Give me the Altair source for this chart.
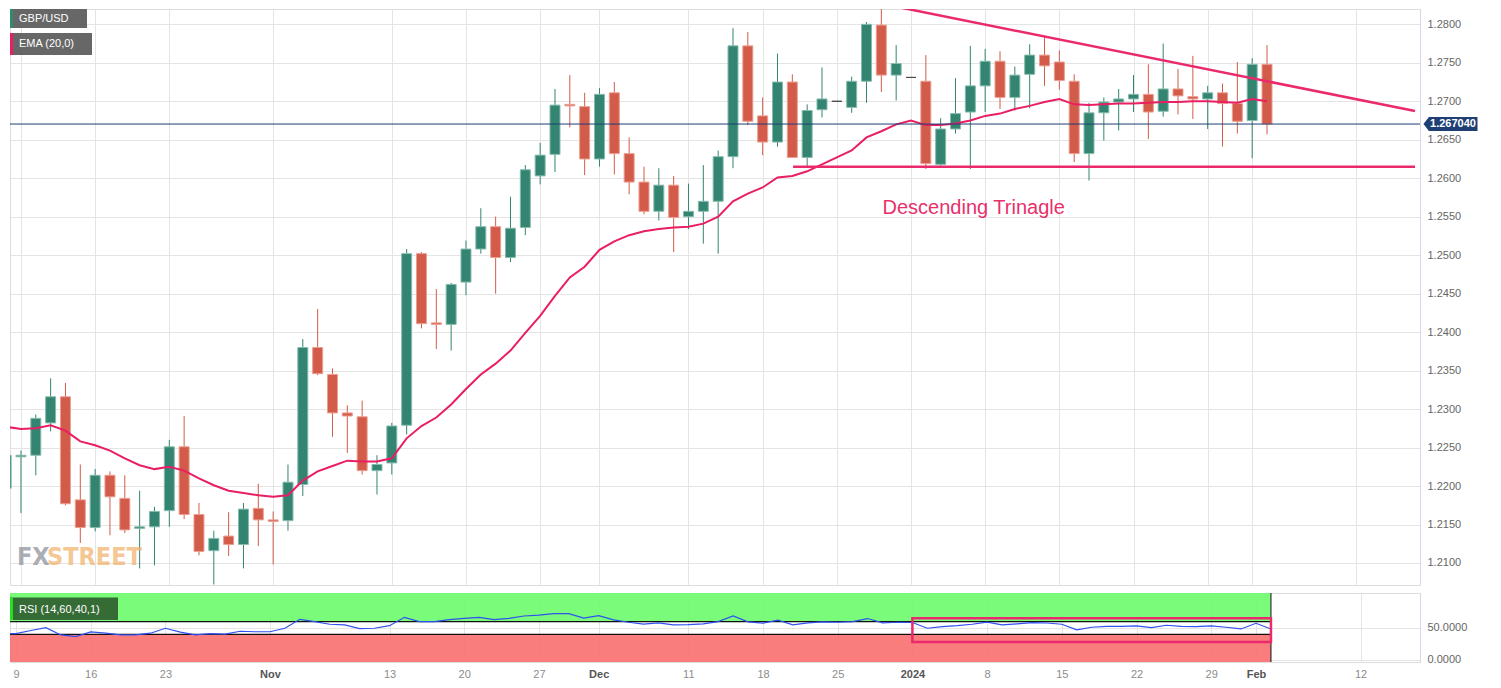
import json
import altair as alt
import pandas as pd

# ---------------- data ----------------
# trading days 2023-10-06 .. 2024-02-02 (index -1 = Oct 6, 0 = Oct 9)
opens = [1.2197, 1.2238, 1.2240, 1.2282, 1.2316, 1.2182, 1.2146, 1.2214, 1.2184, 1.2145,
         1.2147, 1.2168, 1.2251, 1.2163, 1.2116, 1.2135, 1.2124, 1.2171, 1.2156, 1.2155,
         1.2202, 1.2380, 1.2345, 1.2295, 1.2290, 1.2220, 1.2230, 1.2279, 1.2502, 1.2412,
         1.2410, 1.2465, 1.2508, 1.2537, 1.2497, 1.2536, 1.2603, 1.2631, 1.2696, 1.2693,
         1.2625, 1.2711, 1.2632, 1.2595, 1.2557, 1.2591, 1.2550, 1.2557, 1.2570, 1.2628,
         1.2772, 1.2681, 1.2647, 1.2725, 1.2627, 1.2689, 1.2700, 1.2692, 1.2726, 1.2799,
         1.2734, 1.2731, 1.2726, 1.2618, 1.2664, 1.2686, 1.2720, 1.2752, 1.2705, 1.2735,
         1.2760, 1.2751, 1.2726, 1.2632, 1.2685, 1.2699, 1.2703, 1.2709, 1.2687, 1.2716,
         1.2706, 1.2703, 1.2711, 1.2697, 1.2675, 1.2748]
highs = [1.2264, 1.2246, 1.2293, 1.2340, 1.2334, 1.2228, 1.2222, 1.2219, 1.2214, 1.2194,
         1.2173, 1.2260, 1.2291, 1.2178, 1.2142, 1.2166, 1.2178, 1.2203, 1.2167, 1.2228,
         1.2391, 1.2430, 1.2353, 1.2305, 1.2311, 1.2240, 1.2282, 1.2508, 1.2504, 1.2456,
         1.2464, 1.2519, 1.2561, 1.2550, 1.2576, 1.2617, 1.2646, 1.2716, 1.2734, 1.2711,
         1.2717, 1.2725, 1.2653, 1.2615, 1.2613, 1.2603, 1.2593, 1.2617, 1.2636, 1.2795,
         1.2790, 1.2705, 1.2762, 1.2735, 1.2696, 1.2744, 1.2700, 1.2732, 1.2803, 1.2827,
         1.2773, 1.2731, 1.2760, 1.2678, 1.2730, 1.2772, 1.2768, 1.2765, 1.2745, 1.2774,
         1.2785, 1.2766, 1.2735, 1.2698, 1.2705, 1.2716, 1.2734, 1.2748, 1.2775, 1.2742,
         1.2759, 1.2720, 1.2723, 1.2751, 1.2756, 1.2773]
lows = [1.2109, 1.2165, 1.2214, 1.2271, 1.2175, 1.2126, 1.2141, 1.2136, 1.2139, 1.2093,
        1.2097, 1.2147, 1.2157, 1.2110, 1.2072, 1.2109, 1.2093, 1.2122, 1.2098, 1.2142,
        1.2187, 1.2344, 1.2264, 1.2243, 1.2215, 1.2189, 1.2215, 1.2267, 1.2405, 1.2378,
        1.2376, 1.2448, 1.2502, 1.2450, 1.2491, 1.2526, 1.2592, 1.2608, 1.2666, 1.2604,
        1.2615, 1.2605, 1.2579, 1.2553, 1.2545, 1.2504, 1.2534, 1.2515, 1.2502, 1.2613,
        1.2669, 1.2630, 1.2641, 1.2627, 1.2615, 1.2679, 1.2700, 1.2685, 1.2698, 1.2712,
        1.2701, 1.2731, 1.2612, 1.2616, 1.2658, 1.2612, 1.2686, 1.2690, 1.2688, 1.2691,
        1.2720, 1.2715, 1.2621, 1.2597, 1.2649, 1.2662, 1.2686, 1.2651, 1.2680, 1.2683,
        1.2677, 1.2664, 1.2641, 1.2658, 1.2626, 1.2657]
closes = [1.2240, 1.2240, 1.2288, 1.2316, 1.2177, 1.2146, 1.2214, 1.2186, 1.2143, 1.2147,
          1.2167, 1.2251, 1.2163, 1.2115, 1.2132, 1.2124, 1.2170, 1.2156, 1.2154, 1.2205,
          1.2380, 1.2346, 1.2295, 1.2291, 1.2220, 1.2228, 1.2278, 1.2502, 1.2411, 1.2410,
          1.2462, 1.2508, 1.2537, 1.2497, 1.2535, 1.2611, 1.2630, 1.2695, 1.2694, 1.2625,
          1.2709, 1.2632, 1.2595, 1.2557, 1.2591, 1.2549, 1.2557, 1.2570, 1.2628, 1.2772,
          1.2674, 1.2647, 1.2725, 1.2627, 1.2688, 1.2703, 1.2700, 1.2726, 1.2800, 1.2734,
          1.2749, 1.2731, 1.2619, 1.2664, 1.2684, 1.2720, 1.2752, 1.2705, 1.2734, 1.2760,
          1.2746, 1.2727, 1.2632, 1.2685, 1.2699, 1.2703, 1.2709, 1.2686, 1.2716, 1.2707,
          1.2703, 1.2711, 1.2697, 1.2674, 1.2748, 1.26704]
ema20 = [1.2277, 1.2274, 1.2275, 1.2279, 1.2272, 1.2258, 1.2253, 1.2246, 1.2236, 1.2227,
         1.2222, 1.2225, 1.2220, 1.2210, 1.2201, 1.2194, 1.2191, 1.2188, 1.2186, 1.2188,
         1.2207, 1.2219, 1.2226, 1.2233, 1.2232, 1.2232, 1.2236, 1.2262, 1.2278, 1.2289,
         1.2306, 1.2326, 1.2345, 1.2359, 1.2376, 1.2399, 1.2421, 1.2447, 1.2471, 1.2485,
         1.2507, 1.2518, 1.2526, 1.2531, 1.2534, 1.2536, 1.2537, 1.2541, 1.2550, 1.2570,
         1.2580, 1.2588, 1.2601, 1.2603, 1.2609, 1.2618, 1.2627, 1.2636, 1.2653, 1.2661,
         1.2670, 1.2675, 1.2669, 1.2669, 1.2671, 1.2675, 1.2681, 1.2684, 1.2690, 1.2694,
         1.2699, 1.2703, 1.2696, 1.2695, 1.2696, 1.2697, 1.2697, 1.2698, 1.2699, 1.2699,
         1.2700, 1.2700, 1.2699, 1.2698, 1.2703, 1.2700]
rsi14 = [41.0, 41.0, 46.0, 50.5, 39.0, 36.5, 43.8, 41.7, 39.0, 39.0,
         41.7, 49.5, 43.3, 39.0, 41.0, 40.2, 44.8, 44.0, 44.0, 49.5,
         63.6, 59.9, 55.8, 54.7, 49.0, 49.5, 53.6, 66.7, 59.9, 59.9,
         63.0, 65.2, 66.7, 63.0, 65.2, 68.8, 70.3, 72.4, 72.4, 65.4,
         69.5, 62.7, 59.0, 55.9, 57.9, 54.8, 55.2, 56.3, 60.0, 69.0,
         59.5, 57.5, 62.2, 54.8, 57.9, 59.5, 59.0, 60.0, 64.8, 58.0,
         59.0, 58.6, 49.5, 52.0, 53.6, 55.8, 59.0, 54.7, 56.4, 58.3,
         57.8, 55.8, 46.9, 51.1, 52.6, 52.6, 53.1, 50.5, 54.2, 52.6,
         52.0, 53.1, 51.1, 48.4, 57.3, 48.4]
dates = pd.bdate_range("2023-10-06", "2024-02-02")

tick_idx = [0, 5, 10, 17, 25, 30, 35, 39, 45, 50, 55, 60, 65, 70, 75, 80, 83, 90]
tick_text = ["9", "16", "23", "Nov", "13", "20", "27", "Dec", "11", "18", "25",
             "2024", "8", "15", "22", "29", "Feb", "12"]
month_idx = [17, 39, 60, 83]
price_ticks = [1.21, 1.215, 1.22, 1.225, 1.23, 1.235, 1.24, 1.245, 1.25, 1.255,
               1.26, 1.265, 1.27, 1.275, 1.28]

last_close = closes[-1]
tri_upper_idx = [58, 93.976]
tri_upper_px = [1.28268, 1.26873]
support_idx = [52.05, 93.976]
support_px = [1.2615, 1.2615]
rsi_box_idx = [60, 84]
rsi_box_val = [27.7, 65.2]

# ---------------- tables ----------------
n = len(opens)
df = pd.DataFrame({
    "i": list(range(-1, n - 1)),
    "date": [d.strftime("%Y-%m-%d") for d in dates[:n]],
    "open": opens, "high": highs, "low": lows, "close": closes,
    "ema": ema20, "rsi": rsi14,
})
df["dir"] = ["up" if c > o else ("down" if c < o else "flat") for o, c in zip(opens, closes)]

tri = pd.DataFrame({
    "i": tri_upper_idx + support_idx,
    "p": tri_upper_px + support_px,
    "seg": ["upper", "upper", "support", "support"],
})

# ---------------- layout ----------------
W = 1410
H_MAIN = 576
H_RSI = 69
X_DOM = [-0.402, 93.976]
Y_DOM = [1.20714, 1.28199]
R_DOM = [-3.6, 105]
PINK = "#e91e63"
NAVY = "#1f3f74"
FONT = "Liberation Sans"

xs = alt.Scale(domain=X_DOM, nice=False, zero=False)
ys = alt.Scale(domain=Y_DOM, nice=False, zero=False)
rs = alt.Scale(domain=R_DOM, nice=False, zero=False)

x_main_axis = alt.Axis(values=tick_idx, labels=False, ticks=False, domain=False,
                       grid=True, gridColor="#e4e4e4", title=None)
y_main_axis = alt.Axis(orient="right", values=price_ticks, format=".4f", grid=True,
                       gridColor="#e4e4e4", ticks=False, domain=True, domainColor="#d3d9e6",
                       labelPadding=7, labelColor="#666666", labelFontSize=11,
                       labelFont=FONT, title=None)

def XM(field="i"):
    return alt.X(f"{field}:Q", scale=xs, axis=x_main_axis)

def YM(field):
    return alt.Y(f"{field}:Q", scale=ys, axis=y_main_axis)

col_scale = alt.Scale(domain=["up", "down", "flat"], range=["#338571", "#d35b49", "#4a4a4a"])
edge_scale = alt.Scale(domain=["up", "down", "flat"], range=["#86bcae", "#eb9f92", "#4a4a4a"])

base = alt.Chart(df)
one = alt.Chart(pd.DataFrame({"k": [0]}))

wicks = base.mark_rule(strokeWidth=1, clip=True).encode(
    x=XM(), y=YM("low"), y2="high:Q",
    color=alt.Color("dir:N", scale=col_scale, legend=None))
bodies = base.mark_bar(size=10, orient="vertical", strokeWidth=1, clip=True).encode(
    x=XM(), y=YM("open"), y2="close:Q",
    fill=alt.Fill("dir:N", scale=col_scale, legend=None),
    stroke=alt.Stroke("dir:N", scale=edge_scale, legend=None))
ema_line = base.mark_line(color=PINK, strokeWidth=2, clip=True).encode(x=XM(), y=YM("ema"))
tri_lines = alt.Chart(tri).mark_line(color="#ea2a6c", strokeWidth=2.5, clip=True).encode(
    x=XM(), y=YM("p"), detail="seg:N")
price_line = one.mark_rule(color=NAVY, strokeWidth=1).encode(y=alt.datum(last_close))
note = one.mark_text(text="Descending Trinagle", align="left", baseline="alphabetic",
                     fontSize=20, color="#e8306b", font=FONT).encode(
    x=alt.datum(58.08), y=alt.datum(1.25531))

tag = one.mark_point(shape="M -1 0 L -0.8 -0.26 L 1 -0.26 L 1 0.26 L -0.8 0.26 Z",
                     size=2916, filled=True, opacity=1, color=NAVY).encode(
    x=alt.value(W + 30.5), y=alt.datum(last_close))
tag_text = one.mark_text(text=f"{last_close:.6f}", fontSize=11, fontWeight="bold",
                         color="white", font=FONT, align="center", baseline="middle").encode(
    x=alt.value(W + 33), y=alt.datum(last_close))

def label_box(x2, y1, y2, fill, bar):
    box = one.mark_rect(color=fill, opacity=0.92).encode(
        x=alt.value(0), x2=alt.value(x2), y=alt.value(y1), y2=alt.value(y2))
    strip = one.mark_rect(color=bar).encode(
        x=alt.value(0), x2=alt.value(3), y=alt.value(y1), y2=alt.value(y2))
    return box + strip

leg1 = label_box(77, 0, 19, "#5a5a5a", "#2e8b6f")
leg1_t = one.mark_text(text="GBP/USD", align="left", baseline="alphabetic", fontSize=11,
                       color="white", font=FONT).encode(x=alt.value(9), y=alt.value(13))
leg2 = label_box(82, 24, 46, "#5a5a5a", PINK)
leg2_t = one.mark_text(text="EMA (20,0)", align="left", baseline="alphabetic", fontSize=11,
                       color="white", font=FONT).encode(x=alt.value(9), y=alt.value(38))

wm1 = one.mark_text(text="FX", align="left", baseline="alphabetic", fontSize=25,
                    fontWeight="bold", color="#8f949b", opacity=0.75,
                    font="DejaVu Sans Condensed").encode(x=alt.value(7), y=alt.value(556))
wm2 = one.mark_text(text="STREET", align="left", baseline="alphabetic", fontSize=25,
                    fontWeight="bold", color="#f0b067", opacity=0.7,
                    font="DejaVu Sans Condensed").encode(x=alt.value(37), y=alt.value(556))

main = alt.layer(wicks, bodies, ema_line, tri_lines, price_line, note, tag, tag_text,
                 leg1, leg1_t, leg2, leg2_t, wm1, wm2).properties(width=W, height=H_MAIN)

# ---------------- RSI panel ----------------
label_expr = f"{json.dumps(tick_text)}[indexof({json.dumps(tick_idx)}, datum.value)]"
month_test = f"indexof({json.dumps(month_idx)}, datum.value) >= 0"
x_rsi_axis = alt.Axis(values=tick_idx, labelExpr=label_expr, ticks=False, domain=False,
                      grid=True, gridColor="#e4e4e4", labelPadding=6, labelFontSize=11,
                      labelFont=FONT, labelOverlap=False, labelFlush=False, title=None,
                      labelColor={"condition": {"test": month_test, "value": "#555555"},
                                  "value": "#8c8c8c"},
                      labelFontWeight={"condition": {"test": month_test, "value": "bold"},
                                       "value": "normal"})
y_rsi_axis = alt.Axis(orient="right", values=[0, 50], format=".4f", grid=True,
                      gridColor="#e4e4e4", ticks=False, domain=True, domainColor="#d3d9e6",
                      labelPadding=7, labelColor="#666666", labelFontSize=11,
                      labelFont=FONT, title=None)

def XRd(v):
    return alt.X(datum=v, type="quantitative", scale=xs, axis=x_rsi_axis)

def YRd(v):
    return alt.Y(datum=v, type="quantitative", scale=rs, axis=y_rsi_axis)

zone_hi = one.mark_rect(color="#6cfb6c", opacity=0.9).encode(
    x=XRd(X_DOM[0]), x2=alt.X2(datum=84), y=YRd(60), y2=alt.Y2(datum=R_DOM[1]))
zone_lo = one.mark_rect(color="#fa6f6f", opacity=0.9).encode(
    x=XRd(X_DOM[0]), x2=alt.X2(datum=84), y=YRd(R_DOM[0]), y2=alt.Y2(datum=40))
lvl60 = one.mark_rule(color="#111111", strokeWidth=1.3).encode(
    x=XRd(X_DOM[0]), x2=alt.X2(datum=84), y=YRd(60))
lvl40 = one.mark_rule(color="#111111", strokeWidth=1.3).encode(
    x=XRd(X_DOM[0]), x2=alt.X2(datum=84), y=YRd(40))
end_rule = one.mark_rule(color="#111111", strokeWidth=1).encode(
    x=XRd(84), y=YRd(R_DOM[0]), y2=alt.Y2(datum=R_DOM[1]))
rsi_line = base.mark_line(color="#3050f0", strokeWidth=1.2, clip=True).encode(
    x=alt.X("i:Q", scale=xs, axis=x_rsi_axis),
    y=alt.Y("rsi:Q", scale=rs, axis=y_rsi_axis))
rsi_box = one.mark_rect(fillOpacity=0, stroke="#ea2a6c", strokeWidth=2.5).encode(
    x=XRd(rsi_box_idx[0]), x2=alt.X2(datum=rsi_box_idx[1]),
    y=YRd(rsi_box_val[0]), y2=alt.Y2(datum=rsi_box_val[1]))
rsi_lab = label_box(108, 4.5, 27, "#2f5e2f", "#22e022")
rsi_lab_t = one.mark_text(text="RSI (14,60,40,1)", align="left", baseline="alphabetic",
                          fontSize=11, color="white", font=FONT).encode(
    x=alt.value(9), y=alt.value(20))

rsi = alt.layer(
    zone_hi, zone_lo, lvl60, lvl40, end_rule, rsi_line, rsi_box, rsi_lab, rsi_lab_t
).properties(width=W, height=H_RSI)

chart = alt.vconcat(main, rsi, spacing=6).properties(
    padding=0, background="white"
).configure_view(fill="#f7f7f7", stroke="#dde2ea").configure(font=FONT)

chart.save("out.html", embed_options={"renderer": "svg", "actions": False})
